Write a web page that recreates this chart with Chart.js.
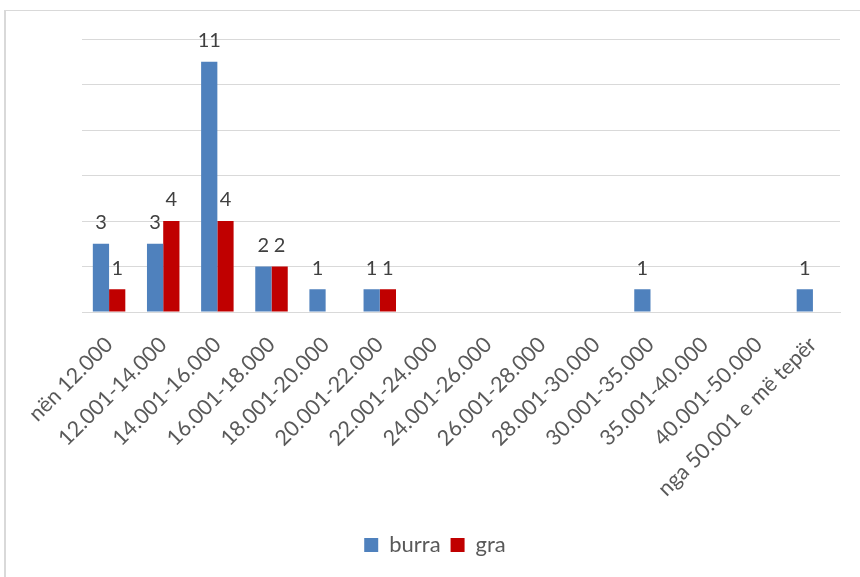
<!DOCTYPE html>
<html>
<head>
<meta charset="utf-8">
<script src="https://cdn.jsdelivr.net/npm/chart.js@4/dist/chart.umd.min.js"></script>
<style>
  html, body { margin: 0; padding: 0; background: #fff; }
  #wrap { position: relative; width: 860px; height: 577px; overflow: hidden; }
  #frame { position: absolute; left: 4px; top: 10px; width: 900px; height: 600px;
           border-left: 2px solid #d9d9d9; border-top: 1px solid #d9d9d9; }
  canvas { position: absolute; left: 0; top: 0; }
</style>
</head>
<body>
<div id="wrap">
  <div id="frame"></div>
  <canvas id="c" width="860" height="577"></canvas>
</div>
<script>
// Income brackets (in lek) and headcounts by gender
const categories = [
  'nën 12.000', '12.001-14.000', '14.001-16.000', '16.001-18.000',
  '18.001-20.000', '20.001-22.000', '22.001-24.000', '24.001-26.000',
  '26.001-28.000', '28.001-30.000', '30.001-35.000', '35.001-40.000',
  '40.001-50.000', 'nga 50.001 e më tepër'
];
const burra = [3, 3, 11, 2, 1, 1, null, null, null, null, 1, null, null, 1];
const gra   = [1, 4, 4, 2, null, 1, null, null, null, null, null, null, null, null];

const FONT = 'Lato, "Open Sans", "Liberation Sans", sans-serif';

// Prints each bar's value just above its top
const valueLabels = {
  id: 'valueLabels',
  afterDatasetsDraw(chart) {
    const ctx = chart.ctx;
    ctx.save();
    ctx.font = '20px ' + FONT;
    ctx.fillStyle = '#404040';
    ctx.textAlign = 'center';
    ctx.textBaseline = 'bottom';
    chart.data.datasets.forEach((ds, di) => {
      const meta = chart.getDatasetMeta(di);
      meta.data.forEach((bar, i) => {
        const v = ds.data[i];
        if (v === null || v === undefined) return;
        ctx.fillText(String(v), bar.x, bar.y - 11);
      });
    });
    ctx.restore();
  }
};

new Chart(document.getElementById('c'), {
  type: 'bar',
  data: {
    labels: categories,
    datasets: [
      { label: 'burra', data: burra, backgroundColor: '#4f81bd' },
      { label: 'gra', data: gra, backgroundColor: '#c00000' }
    ]
  },
  options: {
    responsive: false,
    animation: false,
    layout: { padding: { left: 30, right: 20, top: 39, bottom: 11 } },
    datasets: { bar: { categoryPercentage: 0.6, barPercentage: 1.0 } },
    scales: {
      x: {
        grid: { display: false },
        border: { color: '#d9d9d9' },
        ticks: {
          color: '#595959',
          font: { family: FONT, size: 21.5 },
          minRotation: 45, maxRotation: 45, autoSkip: false, padding: 12
        },
        afterFit(scale) { scale.height = 212; }
      },
      y: {
        min: 0, max: 12,
        ticks: { display: false, stepSize: 2 },
        grid: { color: '#d9d9d9', lineWidth: 1, drawTicks: false },
        border: { display: false },
        afterFit(scale) { scale.width = 52; }
      }
    },
    plugins: {
      legend: {
        position: 'bottom',
        labels: {
          color: '#595959',
          font: { family: FONT, size: 22 },
          boxWidth: 14, boxHeight: 14, padding: 10
        }
      },
      tooltip: { enabled: false }
    }
  },
  plugins: [valueLabels]
});
</script>
</body>
</html>
